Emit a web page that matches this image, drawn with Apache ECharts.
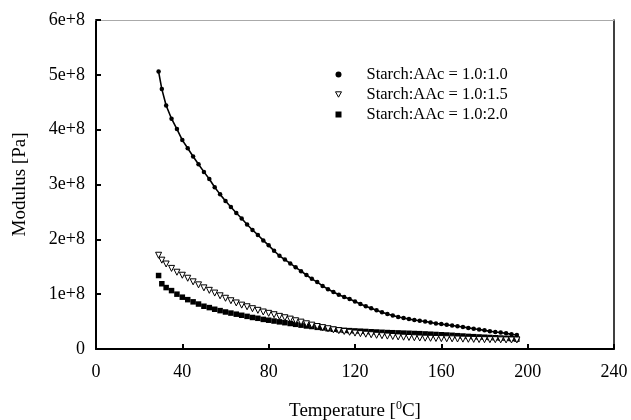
<!DOCTYPE html>
<html>
<head>
<meta charset="utf-8">
<script src="https://cdn.jsdelivr.net/npm/echarts@6/dist/echarts.min.js"></script>
<style>
html,body{margin:0;padding:0;background:#fff;}
#chart{width:631px;height:420px;}
</style>
</head>
<body>
<div id="chart"></div>
<script>
// Temperature [°C] sample points
var temps = [29,30.5,32.5,35,37.5,40,42.5,45,47.5,50,52.5,55,57.5,60,62.5,65,67.5,70,72.5,75,77.5,80,82.5,85,87.5,90,92.5,95,97.5,100,102.5,105,107.5,110,112.5,115,117.5,120,122.5,125,127.5,130,132.5,135,137.5,140,142.5,145,147.5,150,152.5,155,157.5,160,162.5,165,167.5,170,172.5,175,177.5,180,182.5,185,187.5,190,192.5,195];
// Modulus in units of 1e8 Pa
var modulus_1_0 = [5.06,4.74,4.44,4.20,4.01,3.81,3.66,3.51,3.37,3.23,3.10,2.95,2.82,2.70,2.59,2.48,2.38,2.27,2.17,2.08,1.98,1.89,1.79,1.70,1.63,1.56,1.49,1.42,1.35,1.28,1.22,1.15,1.09,1.04,0.99,0.95,0.91,0.865,0.82,0.78,0.745,0.705,0.67,0.64,0.61,0.585,0.565,0.545,0.53,0.515,0.50,0.485,0.465,0.455,0.44,0.43,0.415,0.40,0.385,0.37,0.355,0.34,0.325,0.31,0.30,0.285,0.27,0.255];
var modulus_1_5 = [1.71,1.62,1.55,1.47,1.40,1.345,1.29,1.225,1.17,1.115,1.07,1.02,0.97,0.925,0.88,0.84,0.80,0.77,0.735,0.705,0.675,0.65,0.625,0.595,0.57,0.545,0.515,0.49,0.46,0.435,0.41,0.39,0.37,0.35,0.335,0.32,0.305,0.29,0.28,0.27,0.26,0.25,0.242,0.235,0.228,0.22,0.215,0.21,0.205,0.20,0.197,0.195,0.192,0.19,0.187,0.185,0.182,0.18,0.177,0.175,0.172,0.17,0.17,0.17,0.167,0.165,0.165,0.165];
var modulus_2_0 = [1.34,1.19,1.12,1.065,1.00,0.945,0.90,0.86,0.82,0.78,0.755,0.725,0.70,0.675,0.655,0.635,0.615,0.595,0.575,0.56,0.54,0.525,0.51,0.495,0.48,0.465,0.45,0.435,0.42,0.41,0.395,0.385,0.37,0.36,0.35,0.34,0.335,0.33,0.325,0.32,0.315,0.31,0.305,0.30,0.297,0.294,0.29,0.287,0.283,0.28,0.275,0.27,0.265,0.26,0.255,0.25,0.243,0.237,0.23,0.225,0.22,0.215,0.21,0.205,0.20,0.195,0.19,0.18];
var seriesNames = ['Starch:AAc = 1.0:1.0','Starch:AAc = 1.0:1.5','Starch:AAc = 1.0:2.0'];
var yTickLabels = ['0','1e+8','2e+8','3e+8','4e+8','5e+8','6e+8'];
var xTicks = [0,40,80,120,160,200,240];

function pairs(vals){ return temps.map(function(t,i){ return [t, vals[i]]; }); }

var FONT = 'Liberation Serif';
var chart = echarts.init(document.getElementById('chart'), null, {renderer:'canvas'});
chart.setOption({
  animation:false,
  backgroundColor:'#fff',
  grid:{left:96, right:17, top:20, bottom:71, outerBoundsMode:'none', containLabel:false},
  legend:{
    orient:'vertical', left:330, top:61, itemWidth:6, itemHeight:6, itemGap:3,
    formatter:function(n){ return '{g|}{t|' + n + '}'; },
    textStyle:{fontFamily:FONT, fontSize:16.5, color:'#000',
      rich:{g:{width:20}, t:{fontFamily:FONT, fontSize:16.5, color:'#000'}}},
    data:[
      {name:seriesNames[0], icon:'circle', itemStyle:{color:'#000'}},
      {name:seriesNames[1], icon:'path://M0,0L10,0L5,9Z', itemStyle:{color:'#fff', borderColor:'#000', borderWidth:1}},
      {name:seriesNames[2], icon:'rect'}
    ]
  },
  xAxis:[{
    type:'value', min:xTicks[0], max:xTicks[xTicks.length-1], interval:40,
    name:'{a|Temperature [}{s|0}{a|C]}', nameLocation:'middle', nameGap:51,
    nameTextStyle:{rich:{a:{fontFamily:FONT,fontSize:19,color:'#000',lineHeight:22},s:{fontFamily:FONT,fontSize:12,color:'#000',verticalAlign:'top',lineHeight:22}}},
    axisLine:{onZero:false,lineStyle:{color:'#000',width:2}},
    axisTick:{inside:true,length:5,lineStyle:{color:'#000',width:2}},
    axisLabel:{fontFamily:FONT,fontSize:18,color:'#000',margin:14},
    splitLine:{show:false}
  },{
    type:'value', position:'top', min:0, max:240,
    axisLine:{show:true,onZero:false,lineStyle:{color:'#aaa',width:1}},
    axisTick:{show:false}, axisLabel:{show:false}, splitLine:{show:false}
  }],
  yAxis:[{
    type:'value', min:0, max:6, interval:1,
    name:'Modulus [Pa]', nameLocation:'middle', nameGap:66,
    nameTextStyle:{fontFamily:FONT,fontSize:19,color:'#000'},
    axisLine:{onZero:false,lineStyle:{color:'#000',width:2}},
    axisTick:{inside:true,length:5,lineStyle:{color:'#000',width:2}},
    axisLabel:{fontFamily:FONT,fontSize:18,color:'#000',margin:11,
      formatter:function(v){ return yTickLabels[Math.round(v)]; }},
    splitLine:{show:false}
  },{
    type:'value', position:'right', min:0, max:6,
    axisLine:{show:true,onZero:false,lineStyle:{color:'#000',width:1.5}},
    axisTick:{show:false}, axisLabel:{show:false}, splitLine:{show:false}
  }],
  series:[
    {
      name:seriesNames[2], type:'scatter', data:pairs(modulus_2_0),
      symbol:'rect', symbolSize:5.5, itemStyle:{color:'#000', opacity:1}
    },
    {
      name:seriesNames[1], type:'scatter', data:pairs(modulus_1_5),
      symbol:'triangle', symbolRotate:180, symbolSize:6,
      itemStyle:{color:'#fff', borderColor:'#000', borderWidth:1, opacity:1}
    },
    {
      name:seriesNames[0], type:'line', data:pairs(modulus_1_0),
      symbol:'circle', symbolSize:4.5, showSymbol:true,
      itemStyle:{color:'#000', borderWidth:0},
      lineStyle:{color:'#000', width:1.6}
    }
  ]
});
</script>
</body>
</html>
